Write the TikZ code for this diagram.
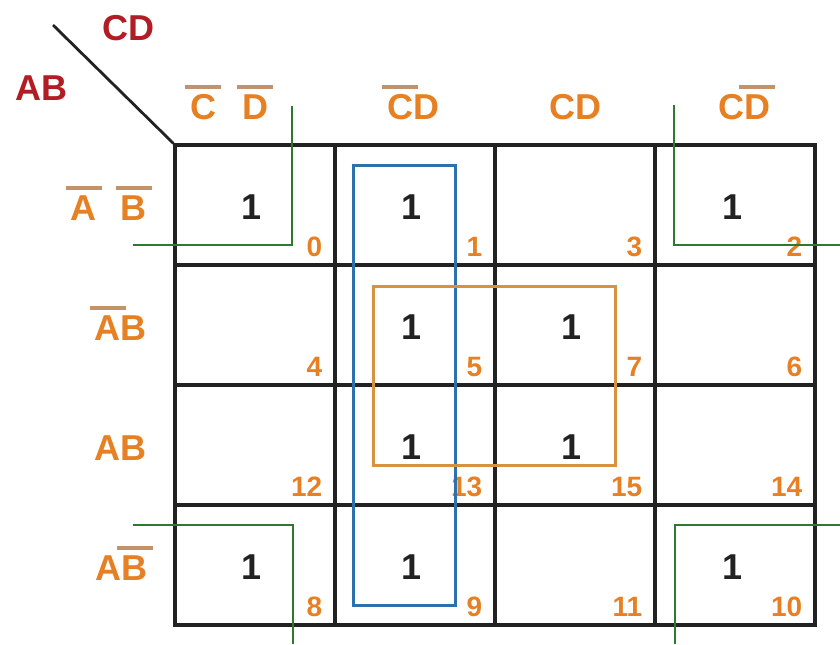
\documentclass[tikz,border=0pt]{standalone}
\usepackage{fontspec}
\setmainfont{Liberation Sans}
\usetikzlibrary{positioning,calc}

\definecolor{kred}{RGB}{178,28,36}
\definecolor{korange}{RGB}{230,128,34}
\definecolor{kbar}{RGB}{196,146,104}
\definecolor{kgreen}{RGB}{46,120,50}
\definecolor{kblue}{RGB}{46,112,172}
\definecolor{kloop}{RGB}{214,146,62}
\definecolor{kink}{RGB}{34,34,34}

% letter with its own thick bar on top
\newcommand\nbar[1]{\setbox0\hbox{#1}\rlap{\hspace{-2.5pt}\raisebox{\dimexpr\ht0+2.5pt\relax}{\textcolor{kbar}{\rule{\dimexpr\wd0+5pt\relax}{2pt}}}}\box0}

\begin{document}
\begin{tikzpicture}[
  x=0.5pt, y=-0.5pt,
  cell/.style={draw=kink, line width=1.6pt, minimum width=80pt, minimum height=60pt, inner sep=0pt},
  one/.style={font=\bfseries\fontsize{18}{18}\selectfont, text=kink, anchor=base, inner sep=0pt},
  idx/.style={font=\bfseries\fontsize{14}{14}\selectfont, text=korange, anchor=base east, inner sep=0pt},
  hdr/.style={font=\bfseries\fontsize{18}{18}\selectfont, text=korange, anchor=base, inner sep=0pt},
  rlab/.style={font=\bfseries\fontsize{18}{18}\selectfont, text=korange, anchor=base east, inner sep=0pt},
  var/.style={font=\bfseries\fontsize{18}{18}\selectfont, text=kred, anchor=base west, inner sep=0pt},
  gloop/.style={draw=kgreen, line width=1.3pt},
  bloop/.style={draw=kblue, line width=1.5pt},
  oloop/.style={draw=kloop, line width=1.5pt},
]
\useasboundingbox (0,0) rectangle (840,644);

% ============================== cells (Gray order) ==============================
\foreach \r/\rg in {0/0,1/1,2/3,3/2}{ \foreach \c/\cg in {0/0,1/1,2/3,3/2}{
  \pgfmathtruncatemacro{\m}{4*\rg+\cg}
  \node[cell] (m\m) at ({255+160*\c},{205+120*\r}) {};
  \node[idx] (n\m) at ($(m\m.south east)+(-14,-10)$) {\m};
}}
\foreach \m in {0,1,2,5,7,8,9,10,13,15}
  \node[one] (o\m) at ($(m\m.center)+(-3,14)$) {1};

% ============================== variables & diagonal ==============================
\coordinate (diag) at (53,25);
\draw[draw=kink, line width=1.4pt] (diag) -- (m0.north west);
\node[var] (vcd) at (102,40) {CD};
\node[var] (vab) at (15,100) {AB};

% ============================== column headers ==============================
\node[hdr] (h0) at (229,119) {\nbar{C}\hspace{13pt}\nbar{D}};
\node[hdr] (h1) at (413,119) {\nbar{C}D};
\node[hdr] (h3) at (575,119) {CD};
\node[hdr] (h2) at (744,119) {C\nbar{D}};

% ============================== row headers ==============================
\node[rlab] (r0) at (147,220) {\nbar{A}\hspace{12pt}\nbar{B}};
\node[rlab] (r1) at (147,340) {\nbar{A}B};
\node[rlab] (r3) at (147,460) {AB};
\node[rlab] (r2) at (148,580) {A\nbar{B}};

% ============================== groups ==============================
% corners 0,2,8,10 (wrap round)
\draw[gloop] (292,106) -- (292,245) -- (133,245);
\draw[gloop] (674,105) -- (674,245) -- (840,245);
\draw[gloop] (133,525) -- (293,525) -- (293,644);
\draw[gloop] (840,525) -- (675,525) -- (675,644);
% column 1,5,13,9
\draw[bloop] (353,165) rectangle (455,605);
% square 5,7,13,15
\draw[oloop] (373,286) rectangle (615,465);
\end{tikzpicture}
\end{document}
